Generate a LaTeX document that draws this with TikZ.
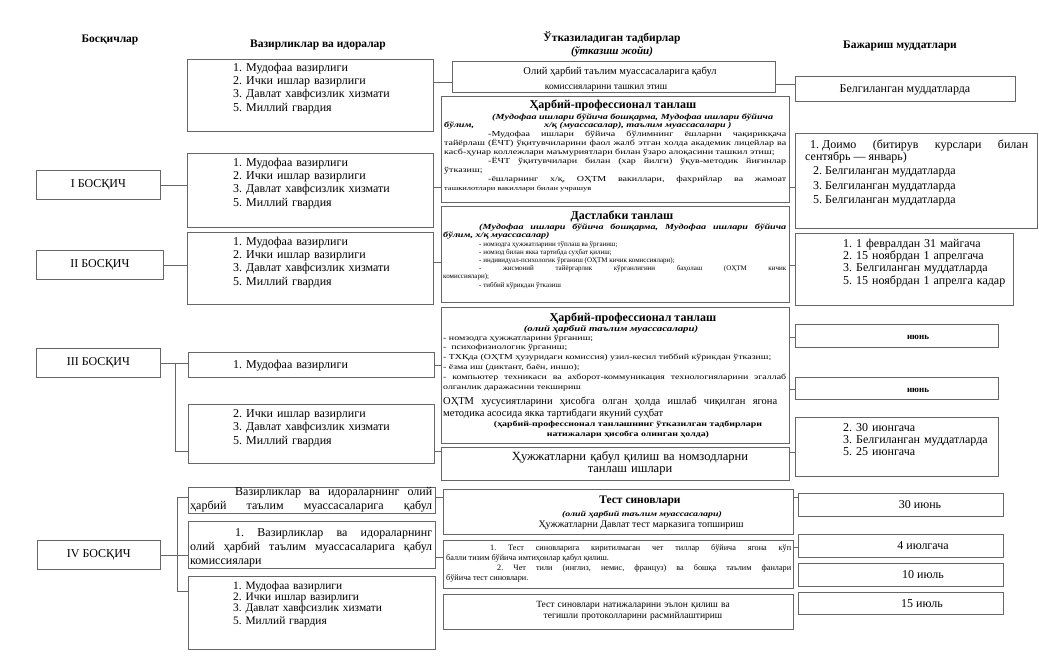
\documentclass[tikz,border=0pt]{standalone}
\usepackage{fontspec}
\setmainfont{Liberation Serif}
\newfontfamily\wide[FakeStretch=1.3]{Liberation Serif}
\usetikzlibrary{positioning}
\newcommand{\fsz}[2]{\fontsize{#1}{#2}\selectfont}
\newcommand{\gap}{\hspace{0pt plus 1filll}}
\frenchspacing

\begin{document}
\begin{tikzpicture}[x=1pt,y=-1pt,
  panel/.style={draw=black!60,line width=0.7pt,inner sep=0pt,anchor=north west},
  stg/.style={panel,minimum width=124pt,minimum height=29pt,font=\fsz{12}{13}},
  conn/.style={draw=black!60,line width=0.7pt},
  hd/.style={anchor=base,inner sep=0pt,font=\bfseries\fsz{11.5}{13}},
  lst/.style={anchor=base west,align=left,inner sep=0pt,text width=195pt,font=\fsz{12}{13}},
  txt/.style={anchor=base,align=center,inner sep=0pt},
  ctr/.style={txt,text width=340pt},
  just/.style={anchor=base west,align=justify,inner sep=0pt}]
  \useasboundingbox (0,0) rectangle (1039,672);
  \fill[white] (0,0) rectangle (1039,672);
  % column heads
  \node[hd] (hstage) at (110,42) {Босқичлар};
  \node[hd] (hmin) at (318,47) {Вазирликлар ва идоралар};
  \node[hd] (hev) at (612,41) {Ўтказиладиган тадбирлар};
  \node[hd,font=\bfseries\itshape\fsz{11}{13}] (hevsub) at (612,54) {(ўтказиш жойи)};
  \node[hd] (hterm) at (900,48) {Бажариш муддатлари};

  % stages
  \node[stg] (s1) at (36,170) {I БОСҚИЧ};
  \node[stg,minimum width=127pt] (s2) at (36,250) {II БОСҚИЧ};
  \node[stg] (s3) at (36,348) {III БОСҚИЧ};
  \node[stg,minimum width=123pt] (s4) at (37,540) {IV БОСҚИЧ};

  % ministries
  \node[panel,minimum width=246pt,minimum height=72pt] (m0) at (187,59) {};
  \node[panel,minimum width=246pt,minimum height=74pt] (m1) at (187,153) {};
  \node[panel,minimum width=246pt,minimum height=72pt] (m2) at (187,232) {};
  \node[panel,minimum width=246pt,minimum height=25pt] (m3a) at (188,352) {};
  \node[panel,minimum width=246pt,minimum height=59pt] (m3b) at (188,404) {};
  \node[panel,minimum width=247pt,minimum height=26pt] (m4a) at (188,487) {};
  \node[panel,minimum width=247pt,minimum height=47pt] (m4b) at (188,521) {};
  \node[panel,minimum width=247pt,minimum height=73pt] (m4c) at (188,576) {};
  \node[lst] (m0t) at (233,71) {1. Мудофаа вазирлиги\\2. Ички ишлар вазирлиги\\3. Давлат хавфсизлик хизмати\\[1pt]5. Миллий гвардия};
  \node[lst] (m1t) at (233,166) {1. Мудофаа вазирлиги\\2. Ички ишлар вазирлиги\\3. Давлат хавфсизлик хизмати\\[1pt]5. Миллий гвардия};
  \node[lst] (m2t) at (233,245) {1. Мудофаа вазирлиги\\2. Ички ишлар вазирлиги\\3. Давлат хавфсизлик хизмати\\[1pt]5. Миллий гвардия};
  \node[lst] (m3at) at (233,368) {1. Мудофаа вазирлиги};
  \node[lst] (m3bt) at (233,417) {2. Ички ишлар вазирлиги\\3. Давлат хавфсизлик хизмати\\[1pt]5. Миллий гвардия};
  \node[just,text width=242pt,font=\fsz{12}{14}] (m4at) at (190,495) {\hspace*{45pt}Вазирликлар ва идораларнинг олий\linebreak ҳарбий\gap{} таълим\gap{} муассасаларига\gap{} қабул};
  \node[just,text width=242pt,font=\fsz{12}{14}] (m4bt) at (190,536) {\hspace*{45pt}1. Вазирликлар ва идораларнинг\linebreak олий ҳарбий таълим муассасаларига қабул\linebreak комиссиялари};
  \node[lst,font=\fsz{11.4}{11.3}] (m4ct) at (233,589) {1. Мудофаа вазирлиги\\2. Ички ишлар вазирлиги\\3. Давлат хавфсизлик хизмати\\[2pt]5. Миллий гвардия};

  % events
  \node[panel,minimum width=323pt,minimum height=31pt] (e0) at (452,61) {};
  \node[panel,minimum width=348pt,minimum height=106pt] (e1) at (441,96) {};
  \node[panel,minimum width=348pt,minimum height=96pt] (e2) at (441,206) {};
  \node[panel,minimum width=348pt,minimum height=136pt] (e3) at (441,307) {};
  \node[panel,minimum width=348pt,minimum height=33pt] (e4) at (441,447) {};
  \node[panel,minimum width=350pt,minimum height=45pt] (e5) at (443,489) {};
  \node[panel,minimum width=350pt,minimum height=48pt] (e6) at (443,540) {};
  \node[panel,minimum width=350pt,minimum height=35pt] (e7) at (443,594) {};

  \node[txt,font=\fsz{10.5}{12}] (e0a) at (620,74) {Олий ҳарбий таълим муассасаларига қабул};
  \node[txt,font=\fsz{9.5}{11}] (e0b) at (606,89) {комиссияларини ташкил этиш};

  \node[txt,font=\bfseries\fsz{12}{13}] (e1h) at (613,108) {Ҳарбий-профессионал танлаш};
  \node[just,text width=342pt,font=\wide\bfseries\itshape\fsz{7.8}{8.5}] (e1s) at (444,119) {\hspace*{48pt}(Мудофаа ишлари бўйича бошқарма, Мудофаа ишлари бўйича\\бўлим,\hspace{70pt}х/қ (муассасалар), таълим муассасалари )};
  \node[just,text width=342pt,font=\wide\fsz{7.7}{9}] (e1b) at (444,136) {\hspace*{44pt}-Мудофаа ишлари бўйича бўлимнинг ёшларни чақирикқача\linebreak тайёрлаш (ЁЧТ) ўқитувчиларини фаол жалб этган холда академик лицейлар ва\linebreak касб-ҳунар коллежлари маъмуриятлари билан ўзаро алоқасини ташкил этиш;\\\hspace*{44pt}-ЁЧТ ўқитувчилари билан (хар йилги) ўқув-методик йиғинлар\linebreak ўтказиш;\\\hspace*{44pt}-ёшларнинг х/қ, ОҲТМ вакиллари, фахрийлар ва жамоат\linebreak {\fsz{6.5}{9}ташкилотлари вакиллари билан учрашув}};

  \node[txt,font=\bfseries\fsz{12}{13}] (e2h) at (622,219) {Дастлабки танлаш};
  \node[just,text width=343pt,font=\wide\bfseries\itshape\fsz{7.8}{8}] (e2s) at (443,229) {\hspace*{36pt}(Мудофаа ишлари бўйича бошқарма, Мудофаа ишлари бўйича\linebreak бўлим, х/қ муассасалар)};
  \node[just,text width=343pt,font=\fsz{7}{8.2}] (e2b) at (443,246) {\hspace*{36pt}- номзодга ҳужжатларини тўплаш ва ўрганиш;\\\hspace*{36pt}- номзод билан якка тартибда суҳбат қилиш;\\\hspace*{36pt}- индивидуал-психологик ўрганиш (ОҲТМ кичик комиссиялари);\\\hspace*{36pt}- жисмоний тайёргарлик кўрганлигини баҳолаш (ОҲТМ кичик\linebreak комиссиялари);\\\hspace*{36pt}- тиббий кўрикдан ўтказиш};

  \node[txt,font=\bfseries\fsz{12}{13}] (e3h) at (633,321) {Ҳарбий-профессионал танлаш};
  \node[txt,font=\wide\bfseries\itshape\fsz{8.3}{9}] (e3s) at (611,331) {(олий ҳарбий таълим муассасалари)};
  \node[just,text width=343pt,font=\wide\fsz{7.6}{9.8}] (e3b) at (443,340) {- номзодга ҳужжатларини ўрганиш;\\-\ \ психофизиологик ўрганиш;\\- ТХҚда (ОҲТМ ҳузуридаги комиссия) узил-кесил тиббий кўрикдан ўтказиш;\\- ёзма иш (диктант, баён, иншо);\\- компьютер техникаси ва ахборот-коммуникация технологияларини эгаллаб\linebreak олганлик даражасини текшириш};
  \node[just,text width=334pt,font=\fsz{10.5}{12}] (e3c) at (443,404) {ОҲТМ хусусиятларини ҳисобга олган ҳолда ишлаб чиқилган ягона\linebreak методика асосида якка тартибдаги якуний суҳбат};
  \node[ctr,font=\wide\bfseries\fsz{7.6}{10}] (e3d) at (628,426) {(ҳарбий-профессионал танлашнинг ўтказилган тадбирлари\\натижалари ҳисобга олинган ҳолда)};

  \node[ctr,font=\fsz{12.5}{12}] (e4t) at (630,460) {Ҳужжатларни қабул қилиш ва номзодларни\\танлаш ишлари};

  \node[txt,font=\bfseries\fsz{11.5}{13}] (e5h) at (640,503) {Тест синовлари};
  \node[txt,font=\wide\bfseries\itshape\fsz{7.6}{9}] (e5s) at (642,516) {(олий ҳарбий таълим муассасалари)};
  \node[txt,font=\fsz{10}{12}] (e5t) at (641,527) {Ҳужжатларни Давлат тест марказига топшириш};
  \node[just,text width=345pt,font=\fsz{8.2}{10}] (e6t) at (446,550) {\hspace*{44pt}1. Тест синовларига киритилмаган чет тиллар бўйича ягона кўп\linebreak балли тизим бўйича имтиҳонлар қабул қилиш.\\\hspace*{51pt}2. Чет тили (инглиз, немис, француз) ва бошқа таълим фанлари\linebreak бўйича тест синовлари.};
  \node[ctr,font=\fsz{9.5}{11}] (e7t) at (633,607) {Тест синовлари натижаларини эълон қилиш ва\\тегишли протоколларини расмийлаштириш};

  % terms
  \node[panel,minimum width=220pt,minimum height=25pt] (r0) at (795,76) {};
  \node[panel,minimum width=242pt,minimum height=95pt] (r1) at (795,133) {};
  \node[panel,minimum width=218pt,minimum height=72pt] (r2) at (795,233) {};
  \node[panel,minimum width=203pt,minimum height=23pt] (r3a) at (795,324) {};
  \node[panel,minimum width=203pt,minimum height=22pt] (r3b) at (795,377) {};
  \node[panel,minimum width=203pt,minimum height=59pt] (r3c) at (795,417) {};
  \node[panel,minimum width=205pt,minimum height=23pt] (r4a) at (798,493) {};
  \node[panel,minimum width=205pt,minimum height=23pt] (r4b) at (798,534) {};
  \node[panel,minimum width=205pt,minimum height=23pt] (r4c) at (798,563) {};
  \node[panel,minimum width=205pt,minimum height=22pt] (r4d) at (798,592) {};
  \node[txt,font=\fsz{12}{13}] (r0t) at (905,92) {Белгиланган муддатларда};
  \node[just,text width=223pt,font=\fsz{12}{10}] (r1t) at (805,148) {\hspace*{5pt}\hbox{1. Доимо} (битирув курслари билан\linebreak сентябрь — январь)\\[3pt]\hspace*{8pt}2. Белгиланган муддатларда\\[3pt]\hspace*{8pt}3. Белгиланган муддатларда\\[3pt]\hspace*{8pt}5. Белгиланган муддатларда};
  \node[lst,font=\fsz{12}{12.4}] (r2t) at (843,247) {1. 1 февралдан 31 майгача\\2. 15 ноябрдан 1 апрелгача\\3. Белгиланган муддатларда\\5. 15 ноябрдан 1 апрелга кадар};
  \node[txt,font=\bfseries\fsz{9}{10}] (r3at) at (918,339) {июнь};
  \node[txt,font=\bfseries\fsz{9}{10}] (r3bt) at (918,392) {июнь};
  \node[lst,font=\fsz{12}{12.4}] (r3ct) at (843,431) {2. 30 июнгача\\3. Белгиланган муддатларда\\5. 25 июнгача};
  \node[txt,font=\fsz{12}{13}] (r4at) at (920,508) {30 июнь};
  \node[txt,font=\fsz{12}{13}] (r4bt) at (923,549) {4 июлгача};
  \node[txt,font=\fsz{12}{13}] (r4ct) at (923,578) {10 июль};
  \node[txt,font=\fsz{12}{13}] (r4dt) at (922,607) {15 июль};

  % connectors
  \draw[conn] (s1.east) -- (s1.east -| m1.west);
  \draw[conn] (s2.east) -- (s2.east -| m2.west);
  \coordinate (k3) at (175,451);
  \draw[conn] (s3.east) -- (s3.east -| m3a.west);
  \draw[conn] (s3.east -| k3) -- (k3) -- (k3 -| m3b.west);
  \coordinate (k4a) at (177,497);
  \coordinate (k4c) at (177,591);
  \draw[conn] (s4.east) -- (s4.east -| m4b.west);
  \draw[conn] (k4a -| m4a.west) -- (k4a) -- (k4c) -- (k4c -| m4c.west);
  \foreach \a/\b/\h in {m0/e0/82,e0/r0/84,m1/e1/187,e1/r1/187,m2/e2/262,e2/r2/265,m3a/e3/365,e3/r3a/337,e3/r3b/389,m3b/e4/451,e4/r3c/452,m4a/e5/497,e5/r4a/497,m4b/e6/557,e6/r4b/547}
    \draw[conn] (\a.east |- 0,\h) -- (\b.west |- 0,\h);
\end{tikzpicture}
\end{document}
